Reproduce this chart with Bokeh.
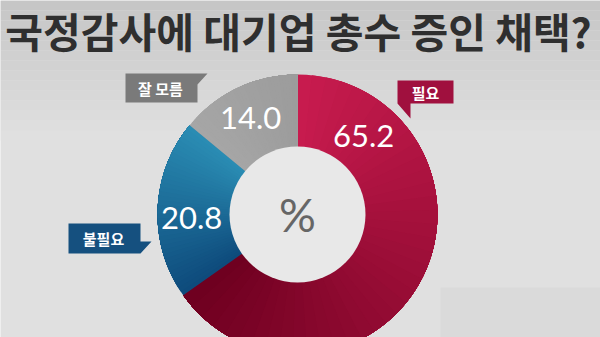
import math
from bokeh.plotting import figure
from bokeh.models import Range1d
from bokeh.core.properties import value
from bokeh.embed import file_html
from bokeh.resources import INLINE

# --- data ---
title_text = "국정감사에 대기업 총수 증인 채택?"
categories = ["필요", "불필요", "잘 모름"]
values = [65.2, 20.8, 14.0]

# --- styling ---
W, H = 600, 337
light_colors = ["#c71b4e", "#0e4b7c", "#a6a6a6"]   # colour at slice start (clockwise)
dark_colors = ["#6f0020", "#2a8cb3", "#9c9c9c"]    # colour at slice end
tag_colors = ["#a0103e", "#15507f", "#7a7a7a"]

CX, CY = 297, 214          # donut centre (pixels from top-left)
R_OUT, R_IN = 140, 68

# label anchor (angle in degrees, radius) for the value texts
label_angle = [50, 182, 116]
label_radius = [103, 106, 107]


def Y(ypix):
    return H - ypix


def lerp_color(c1, c2, t):
    a = [int(c1[i:i + 2], 16) for i in (1, 3, 5)]
    b = [int(c2[i:i + 2], 16) for i in (1, 3, 5)]
    return "#%02x%02x%02x" % tuple(round(a[i] + (b[i] - a[i]) * t) for i in range(3))


p = figure(width=W, height=H, output_backend="svg", toolbar_location=None,
           x_range=Range1d(0, W), y_range=Range1d(0, H), min_border=0)
p.axis.visible = False
p.grid.visible = False
p.outline_line_color = None
p.background_fill_color = "#e0e0e0"
p.border_fill_color = "#e0e0e0"

# soft vertical background shading, darker near the top
bands = 14
for i in range(bands):
    t = i / (bands - 1)
    p.quad(left=0, right=W, top=Y(i * 10), bottom=Y(i * 10 + 10),
           fill_color=lerp_color("#c6c6c6", "#e0e0e0", t), line_color=None)
# faint floor band on the lower right
p.quad(left=440, right=W, top=Y(287), bottom=0, fill_color="#dadada", line_color=None)

# --- donut ---
total = sum(values)
cum = 0.0
steps = 40
for i, v in enumerate(values):
    start = math.pi / 2 - 2 * math.pi * cum / total
    end = math.pi / 2 - 2 * math.pi * (cum + v) / total
    cum += v
    for k in range(steps):
        a = start - (start - end) * k / steps
        p.annular_wedge(x=CX, y=Y(CY), inner_radius=R_IN - 1, outer_radius=R_OUT,
                        start_angle=a, end_angle=end, direction="clock",
                        fill_color=lerp_color(light_colors[i], dark_colors[i], k / (steps - 1)),
                        line_color=None)

p.circle(x=CX, y=Y(CY), radius=R_IN, fill_color="#e8e8e8", line_color=None)

# value labels
lx = [CX + r * math.cos(math.radians(a)) for a, r in zip(label_angle, label_radius)]
ly = [Y(CY) + r * math.sin(math.radians(a)) for a, r in zip(label_angle, label_radius)]
p.text(x=lx, y=ly, text=["%.1f" % v for v in values], text_font=value("Lato"),
       text_font_size="31px", text_color="white", text_align="center",
       text_baseline="middle")

p.text(x=[CX], y=[Y(CY)], text=["%"], text_font=value("Lato"), text_font_size="46px",
       text_color="#666666", text_align="center", text_baseline="middle")

# --- category tags ---
tag_shapes = [
    [(397, 80), (453, 80), (453, 103), (410, 103), (410, 118), (397, 103)],
    [(68, 223), (140, 223), (140, 241), (151, 241), (140, 253), (68, 253)],
    [(125, 73), (207, 73), (197, 84), (197, 102), (125, 102)],
]
tag_text_pos = [(425, 92), (103, 238), (160, 88)]
p.patches(xs=[[pt[0] for pt in s] for s in tag_shapes],
          ys=[[Y(pt[1]) for pt in s] for s in tag_shapes],
          fill_color=tag_colors, line_color=None)
p.text(x=[q[0] for q in tag_text_pos], y=[Y(q[1]) for q in tag_text_pos], text=categories,
       text_font=value("Noto Sans CJK KR"), text_font_style="bold", text_font_size="15px",
       text_color="white", text_align="center", text_baseline="middle")

# --- title ---
p.text(x=[298], y=[Y(29)], text=[title_text], text_font=value("Noto Sans CJK KR"),
       text_font_style="bold", text_font_size="41px", text_color="#2f2f2f",
       text_align="center", text_baseline="middle")

open("out.html", "w").write(file_html(p, INLINE))
